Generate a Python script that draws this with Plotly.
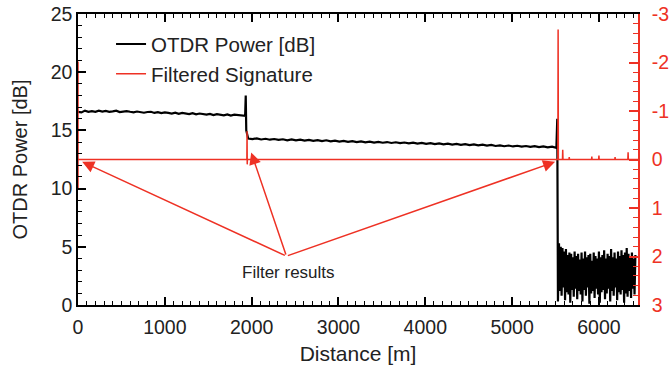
import numpy as np
import plotly.graph_objects as go

# ---------------- data ----------------
# segment 1 of the OTDR trace: 0 .. 1880 m, every 40 m
seg1_dist = list(range(0, 1881, 40))
seg1_power = [16.6, 16.55, 16.7, 16.6, 16.65, 16.6, 16.7, 16.62, 16.68, 16.6,
              16.64, 16.7, 16.58, 16.62, 16.66, 16.6, 16.55, 16.62, 16.6, 16.52,
              16.58, 16.6, 16.5, 16.56, 16.48, 16.55, 16.5, 16.45, 16.52, 16.42,
              16.5, 16.45, 16.4, 16.48, 16.38, 16.45, 16.4, 16.35, 16.42, 16.32,
              16.4, 16.35, 16.3, 16.38, 16.28, 16.35, 16.3, 16.25]
# first reflection event
event1_dist = [1925, 1932, 1938]
event1_power = [16.25, 18.0, 15.0]
# segment 2: 1960 .. 5510 m, every 50 m
seg2_dist = list(range(1960, 5511, 50))
seg2_power = [14.3, 14.25, 14.32, 14.22, 14.28, 14.2, 14.26, 14.18, 14.24, 14.15,
              14.22, 14.14, 14.2, 14.12, 14.18, 14.1, 14.16, 14.08, 14.15, 14.06,
              14.12, 14.04, 14.1, 14.02, 14.08, 14.0, 14.06, 13.98, 14.04, 13.96,
              14.02, 13.94, 14.0, 13.92, 13.98, 13.9, 13.96, 13.88, 13.94, 13.86,
              13.92, 13.84, 13.9, 13.82, 13.88, 13.8, 13.86, 13.78, 13.84, 13.76,
              13.82, 13.74, 13.8, 13.72, 13.78, 13.7, 13.75, 13.66, 13.72, 13.64,
              13.7, 13.62, 13.68, 13.6, 13.66, 13.58, 13.64, 13.56, 13.62, 13.54,
              13.6, 13.5]
# fibre end reflection
event2_dist = [5520, 5528]
event2_power = [16.0, 0.3]
# noise floor after the fibre end: 5540 .. 6420 m, every 10 m
tail_dist = list(range(5540, 6421, 10))
tail_power = [5.3, 1.2, 5.0, 0.8, 4.9, 1.5, 4.6, 0.4, 4.8, 1.1,
              4.3, 0.9, 4.5, 0.2, 4.4, 1.3, 4.1, 0.7, 4.6, 1.4,
              4.2, 0.5, 4.4, 1.2, 3.9, 0.9, 4.5, 0.3, 4.0, 1.3,
              4.6, 0.8, 4.1, 1.5, 4.3, 0.1, 4.4, 1.0, 3.8, 1.2,
              4.5, 0.6, 4.2, 1.4, 4.0, 0.9, 4.6, 0.2, 4.1, 1.1,
              4.3, 1.3, 4.7, 0.5, 4.0, 1.0, 4.4, 1.4, 4.2, 0.3,
              4.8, 1.2, 4.1, 0.8, 4.5, 1.5, 4.0, 0.4, 4.6, 1.1,
              4.2, 0.9, 4.7, 1.3, 4.3, 0.2, 4.5, 1.0, 4.9, 0.7,
              4.4, 1.2, 4.1, 0.6, 4.5, 1.4, 4.0, 0.9, 4.3]

# filtered signature (right axis)
filt_dist = [0, 0, 0, 0, 1945, 1947, 1949, 1951,
             5527, 5530, 5533, 5580, 5583, 5586, 5655, 5658, 5661,
             5915, 5918, 5921, 5997, 6000, 6003, 6183, 6186, 6189,
             6333, 6336, 6339, 6450]
filt_sig = [0, -2.02, 0.63, 0, 0, -0.58, 0.1, 0,
            0, -2.68, 0, 0, -0.2, 0, 0, -0.05, 0,
            0, -0.06, 0, 0, -0.08, 0, 0, -0.05, 0,
            0, -0.15, 0, 0]

# arrow annotations: tail and heads (data units)
arrow_tail = (2400, 4.2)
arrow_heads_dist = [48, 1995, 5495]
arrow_heads_power = [12.3, 13.1, 12.3]
label_text = "Filter results"
label_pos = (2420, 2.8)

x_ticks = [0, 1000, 2000, 3000, 4000, 5000, 6000]
y_ticks = [0, 5, 10, 15, 20, 25]
y2_ticks = [-3, -2, -1, 0, 1, 2, 3]
y2_labels = ["-3", "-2", "-1", "0", "1", "2", "3"]

# ---------------- figure ----------------
RED = "#ee3124"
FONT = "Liberation Sans, Arial, sans-serif"

otdr_x = seg1_dist + event1_dist + seg2_dist + event2_dist + tail_dist
otdr_y = seg1_power + event1_power + seg2_power + event2_power + tail_power

fig = go.Figure()
fig.add_trace(go.Scatter(x=otdr_x, y=otdr_y, mode="lines", name="OTDR Power [dB]",
                         line=dict(color="black", width=2.2)))
fig.add_trace(go.Scatter(x=filt_dist, y=filt_sig, mode="lines", name="Filtered Signature",
                         line=dict(color=RED, width=1.5), yaxis="y2"))

for hx, hy in zip(arrow_heads_dist, arrow_heads_power):
    fig.add_annotation(x=hx, y=hy, ax=arrow_tail[0], ay=arrow_tail[1],
                       xref="x", yref="y", axref="x", ayref="y",
                       showarrow=True, arrowhead=2, arrowsize=1.6, arrowwidth=1.5,
                       arrowcolor=RED, text="")
fig.add_annotation(x=label_pos[0], y=label_pos[1], xref="x", yref="y", text=label_text,
                   showarrow=False, font=dict(family=FONT, size=17, color="#222"))

fig.update_layout(
    width=670, height=373,
    margin=dict(l=78, r=32, t=14, b=68),
    paper_bgcolor="white", plot_bgcolor="white",
    font=dict(family=FONT, size=19.5, color="#222"),
    showlegend=True,
    legend=dict(x=0.059, y=0.965, xanchor="left", yanchor="top",
                bgcolor="rgba(0,0,0,0)", font=dict(family=FONT, size=20.5, color="#222"),
                tracegroupgap=0),
    xaxis=dict(range=[0, 6450], tickvals=x_ticks, ticks="inside", ticklen=8, tickwidth=1.5,
               tickcolor="black", showline=True, linecolor="black", linewidth=1.5,
               mirror="ticks", showgrid=False, zeroline=False, automargin=False,
               minor=dict(dtick=100, ticks="inside", ticklen=4, tickcolor="black", tickwidth=1),
               ticklabelstandoff=4,
               title=dict(text="Distance [m]", font=dict(size=21), standoff=9)),
    yaxis=dict(range=[0, 25], tickvals=y_ticks, ticks="inside", ticklen=8, tickwidth=1.5,
               tickcolor="black", showline=True, linecolor="black", linewidth=1.5,
               showgrid=False, zeroline=False, automargin=False, ticklabeloverflow="allow",
               minor=dict(dtick=1, ticks="inside", ticklen=4, tickcolor="black", tickwidth=1),
               title=dict(text="OTDR Power [dB]", font=dict(size=20), standoff=18)),
    yaxis2=dict(range=[3, -3], tickvals=y2_ticks, ticktext=y2_labels, overlaying="y",
                side="right", automargin=False, ticklabeloverflow="allow",
                ticks="inside", ticklen=9, tickwidth=1.5, tickcolor=RED,
                showline=True, linecolor=RED, linewidth=1.5, showgrid=False, zeroline=False,
                minor=dict(dtick=0.2, ticks="inside", ticklen=5, tickcolor=RED, tickwidth=1),
                tickfont=dict(color=RED, size=19.5), ticklabelstandoff=8),
)

fig.write_html("out.html", config={"displayModeBar": False},
               post_script="document.body.style.margin='0';document.body.style.overflow='hidden';")
